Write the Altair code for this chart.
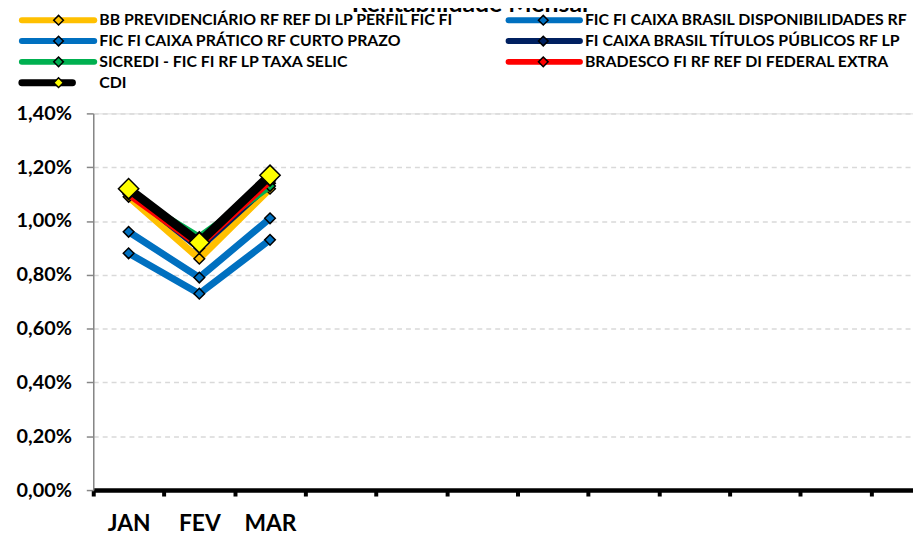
import altair as alt
import pandas as pd

# ---------------- data ----------------
months = ["JAN", "FEV", "MAR", "ABR", "MAI", "JUN", "JUL", "AGO", "SET", "OUT", "NOV", "DEZ"]
data_months = ["JAN", "FEV", "MAR"]

series = [
    "BB PREVIDENCIÁRIO RF REF DI LP PERFIL FIC FI",
    "FIC FI CAIXA BRASIL DISPONIBILIDADES RF",
    "FIC FI CAIXA PRÁTICO RF CURTO PRAZO",
    "FI CAIXA BRASIL TÍTULOS PÚBLICOS RF LP",
    "SICREDI - FIC FI RF LP TAXA SELIC",
    "BRADESCO FI RF REF DI FEDERAL EXTRA",
    "CDI",
]
colors = ["#FFC000", "#0070C0", "#0070C0", "#002060", "#00B050", "#FF0000", "#000000"]
marker_fill = ["#FFC000", "#0070C0", "#0070C0", "#002060", "#00B050", "#FF0000", "#FFFF00"]

bb = [1.09, 0.86, 1.12]
disponibilidades = [0.88, 0.73, 0.93]
pratico = [0.96, 0.79, 1.01]
titulos = [1.11, 0.90, 1.14]
sicredi = [1.10, 0.94, 1.13]
bradesco = [1.10, 0.91, 1.15]
cdi = [1.12, 0.92, 1.17]
values = [bb, disponibilidades, pratico, titulos, sicredi, bradesco, cdi]

y_ticks = [0.0, 0.2, 0.4, 0.6, 0.8, 1.0, 1.2, 1.4]
title_text = "Rentabilidade Mensal"

rows = []
for s, vals in zip(series, values):
    for m, v in zip(data_months, vals):
        rows.append({"mes": m, "serie": s, "valor": v})
df = pd.DataFrame(rows)

FONT = "Lato"

label_list = "[" + ",".join("'%s'" % m for m in data_months) + "]"
x_enc = alt.X(
    "mes:N",
    sort=months,
    scale=alt.Scale(type="band", domain=months, range=[0, 856], paddingInner=0, paddingOuter=0),
    axis=alt.Axis(
        title=None,
        labelExpr="indexof(%s, datum.value) >= 0 ? datum.value : ''" % label_list,
        labelAngle=0,
        labelAlign="center",
        labelBaseline="top",
        tickBand="extent",
        domainColor="#000000",
        domainWidth=4.5,
        tickColor="#000000",
        tickWidth=4,
        tickSize=6,
        labelFont=FONT,
        labelFontSize=23,
        labelFontWeight="bold",
        labelColor="#000000",
        labelPadding=17,
        grid=False,
    ),
)
y_enc = alt.Y(
    "valor:Q",
    scale=alt.Scale(domain=[0, 1.4], nice=False, zero=True),
    axis=alt.Axis(
        title=None,
        values=y_ticks,
        labelExpr="replace(format(datum.value, '.2f'), '.', ',') + '%'",
        domainColor="#868686",
        domainWidth=1.5,
        tickColor="#868686",
        tickWidth=1.5,
        tickSize=7,
        labelFont=FONT,
        labelFontSize=20,
        labelFontWeight="bold",
        labelColor="#000000",
        labelPadding=15,
        grid=True,
        gridColor="#D9D9D9",
        gridDash=[5, 4],
        gridWidth=1.5,
    ),
)

base = alt.Chart(df)
main_layers = []
for i, s in enumerate(series):
    is_cdi = s == "CDI"
    sub = base.transform_filter(alt.datum.serie == s)
    main_layers.append(
        sub.mark_line(
            color=colors[i],
            strokeWidth=9 if is_cdi else 7,
            strokeCap="round",
            strokeJoin="round",
        ).encode(x=x_enc, y=y_enc)
    )
    main_layers.append(
        sub.mark_point(
            shape="diamond",
            filled=True,
            fill=marker_fill[i],
            stroke="#000000",
            strokeWidth=1.5,
            size=420 if is_cdi else 115,
            opacity=1,
        ).encode(x=x_enc, y=y_enc)
    )
main = alt.layer(*main_layers)

# ---------------- legend (built from the series arrays) ----------------
col_line_start = [-72, 419]
col_line_end = [1, 491]
col_marker = [-35, 454]
col_text = [6, 496]
leg_rows = []
for i, s in enumerate(series):
    c = i % 2
    r = i // 2
    is_cdi = s == "CDI"
    leg_rows.append({
        "nome": s,
        "cor": colors[i],
        "fill": marker_fill[i],
        "x0": col_line_start[c],
        "x1": -21 if is_cdi else col_line_end[c],
        "xm": col_marker[c],
        "xt": col_text[c],
        "y": -94 + 21 * r,
        "lw": 7 if is_cdi else 6,
    })
leg_df = pd.DataFrame(leg_rows)
leg_base = alt.Chart(leg_df)
leg_lines = leg_base.mark_rule(strokeCap="round").encode(
    x=alt.X("x0:Q", scale=None, axis=None),
    x2="x1:Q",
    y=alt.Y("y:Q", scale=None, axis=None),
    color=alt.Color("cor:N", scale=None, legend=None),
    strokeWidth=alt.StrokeWidth("lw:Q", scale=None, legend=None),
)
leg_marks = leg_base.mark_point(
    shape="diamond", filled=True, stroke="#000000", strokeWidth=1.5, size=95, opacity=1
).encode(
    x=alt.X("xm:Q", scale=None, axis=None),
    y=alt.Y("y:Q", scale=None, axis=None),
    fill=alt.Fill("fill:N", scale=None, legend=None),
)
leg_text = leg_base.mark_text(
    align="left", baseline="middle", font=FONT, fontSize=16, fontWeight="bold", color="#000000"
).encode(
    x=alt.X("xt:Q", scale=None, axis=None),
    y=alt.Y("y:Q", scale=None, axis=None),
    text="nome:N",
)
title_df = pd.DataFrame([{"t": title_text, "x": 380, "y": -102}])
title_layer = alt.Chart(title_df).mark_text(
    align="center", baseline="alphabetic", font=FONT, fontSize=25, fontWeight="bold", color="#000000"
).encode(
    x=alt.X("x:Q", scale=None, axis=None),
    y=alt.Y("y:Q", scale=None, axis=None),
    text="t:N",
)
legend = alt.layer(leg_lines, leg_marks, leg_text, title_layer)

chart = (
    alt.layer(main, legend)
    .resolve_scale(x="independent", y="independent")
    .properties(
        width=827,
        height=380,
        autosize=alt.AutoSizeParams(type="none"),
        padding={"left": 86, "top": 104, "right": 0, "bottom": 43},
    )
    .configure_view(stroke=None)
    .configure(background="#FFFFFF")
)

chart.save("out.html", embed_options={"renderer": "svg", "actions": False})
